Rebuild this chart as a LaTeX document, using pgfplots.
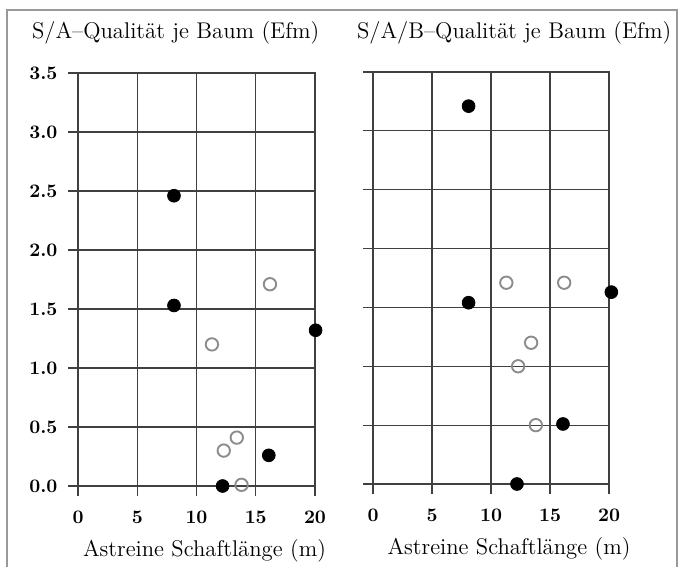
\documentclass[border=0pt]{standalone}
\usepackage{pgfplots}
\pgfplotsset{compat=1.18}
\begin{document}
\begin{tikzpicture}
\useasboundingbox (0,0) rectangle (340bp,283.5bp);
\draw[black!40, line width=1bp] (3.5bp,-5bp) -- (3.5bp,278.5bp) -- (338.5bp,278.5bp) -- (338.5bp,-5bp);
\pgfplotsset{
 panel/.style={
  scale only axis, width=118.5bp, height=206.5bp,
  xmin=0, xmax=20, ymin=0, ymax=3.5,
  xtick={0,5,10,15,20}, ytick={0,0.5,1,1.5,2,2.5,3,3.5},
  grid=major, grid style={black!75, line width=0.55bp},
  axis line style={black!75, line width=0.55bp},
  tick align=outside, major tick length=5bp,
  tick style={black!75, line width=0.55bp},
  xtick pos=bottom, ytick pos=left, clip=false,
  /pgf/number format/assume math mode=true,
  ticklabel style={font=\fontsize{9.6}{11}\selectfont\bfseries},
  xticklabel style={yshift=-4bp},
  yticklabel style={xshift=-1.8bp, /pgf/number format/.cd, fixed, fixed zerofill, precision=1},
  xlabel={Astreine Schaftlänge (m)},
  xlabel style={font=\fontsize{11.4}{13}\selectfont, at={(axis description cs:0.5,0)}, anchor=base, yshift=-35bp},
 },
 filled/.style={only marks, mark=*, mark size=3.2bp, mark options={fill=black, draw=black}},
 open/.style={only marks, mark=o, mark size=3.1bp, mark options={draw=black!45, line width=0.95bp}},
}
\node[anchor=base west, font=\fontsize{11.4}{13}\selectfont] at (12.5bp,264bp) {S/A--Qualität je Baum (Efm)};
\node[anchor=base west, font=\fontsize{11.4}{13}\selectfont] at (175bp,264bp) {S/A/B--Qualität je Baum (Efm)};
\begin{axis}[panel, at={(39bp,40.5bp)}, anchor=south west, xlabel style={xshift=4bp}]
\addplot[filled] coordinates {(8.1,2.46) (8.1,1.53) (20.05,1.32) (16.1,0.26) (12.2,0.0)};
\addplot[open] coordinates {(16.2,1.71) (11.3,1.20) (13.4,0.41) (12.3,0.30) (13.8,0.01)};
\end{axis}
\begin{axis}[panel, at={(186.5bp,41.5bp)}, anchor=south west, width=118bp, height=206bp, yticklabels={}, xlabel style={xshift=9bp}]
\addplot[filled] coordinates {(8.1,3.21) (8.1,1.54) (20.2,1.63) (16.1,0.51) (12.2,0.0)};
\addplot[open] coordinates {(11.3,1.71) (16.2,1.71) (13.4,1.20) (12.3,1.00) (13.8,0.50)};
\end{axis}
\end{tikzpicture}
\end{document}
